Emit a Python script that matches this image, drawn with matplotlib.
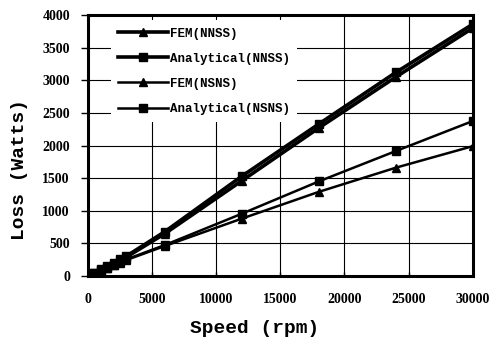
import matplotlib
matplotlib.use('Agg')
import matplotlib.pyplot as plt

speed = [0, 500, 1000, 1500, 2000, 2500, 3000, 6000, 12000, 18000, 24000, 30000]
fem_nnss = [0, 45, 95, 145, 195, 245, 290, 650, 1460, 2270, 3050, 3800]
ana_nnss = [0, 50, 100, 150, 205, 255, 305, 680, 1530, 2330, 3120, 3860]
fem_nsns = [0, 40, 85, 125, 165, 205, 245, 460, 880, 1290, 1660, 1990]
ana_nsns = [0, 42, 88, 130, 172, 215, 255, 475, 955, 1450, 1915, 2375]

plt.rcParams['font.family'] = ['Liberation Serif', 'DejaVu Serif']

fig = plt.figure(figsize=(4.94, 3.42), dpi=100)
ax = fig.add_axes([0.178, 0.193, 0.779, 0.763])

ax.plot(speed, fem_nnss, 'k-', marker='^', ms=6, lw=2.6, label='FEM(NNSS)')
ax.plot(speed, ana_nnss, 'k-', marker='s', ms=6, lw=2.6, label='Analytical(NNSS)')
ax.plot(speed, fem_nsns, 'k-', marker='^', ms=6, lw=1.8, label='FEM(NSNS)')
ax.plot(speed, ana_nsns, 'k-', marker='s', ms=6, lw=1.8, label='Analytical(NSNS)')

ax.set_xlim(0, 30000)
ax.set_ylim(0, 4000)
ax.set_xticks(range(0, 30001, 5000))
ax.set_yticks(range(0, 4001, 500))
ax.grid(True, color='black', lw=0.8)
ax.set_axisbelow(True)
for s in ax.spines.values():
    s.set_linewidth(2.2)
ax.tick_params(axis='x', direction='in', length=3, width=1, labelsize=10, pad=12)
ax.tick_params(axis='y', direction='out', length=5, width=1, labelsize=10, pad=8)
for t in ax.get_xticklabels() + ax.get_yticklabels():
    t.set_fontweight('bold')

# labels: wide, monospaced look as in the source
ax.set_xlabel('Speed (rpm)', fontsize=14, fontweight='bold', family='Liberation Mono')
ax.xaxis.set_label_coords(0.432, -0.168)
ax.set_ylabel('Loss (Watts)', fontsize=14, fontweight='bold', family='Liberation Mono')
ax.yaxis.set_label_coords(-0.156, 0.41)

# white box without edge, hides the grid behind it
leg = ax.legend(loc='upper left', frameon=True, fancybox=False, facecolor='white',
                edgecolor='none', framealpha=1, bbox_to_anchor=(0.05, 0.995),
                borderpad=0.6, borderaxespad=0.3,
                prop={'family': 'Liberation Mono', 'size': 9, 'weight': 'bold'},
                handlelength=4, labelspacing=1.05, handletextpad=0.1)
leg.set_zorder(5)

fig.savefig('out.png', dpi=100)
